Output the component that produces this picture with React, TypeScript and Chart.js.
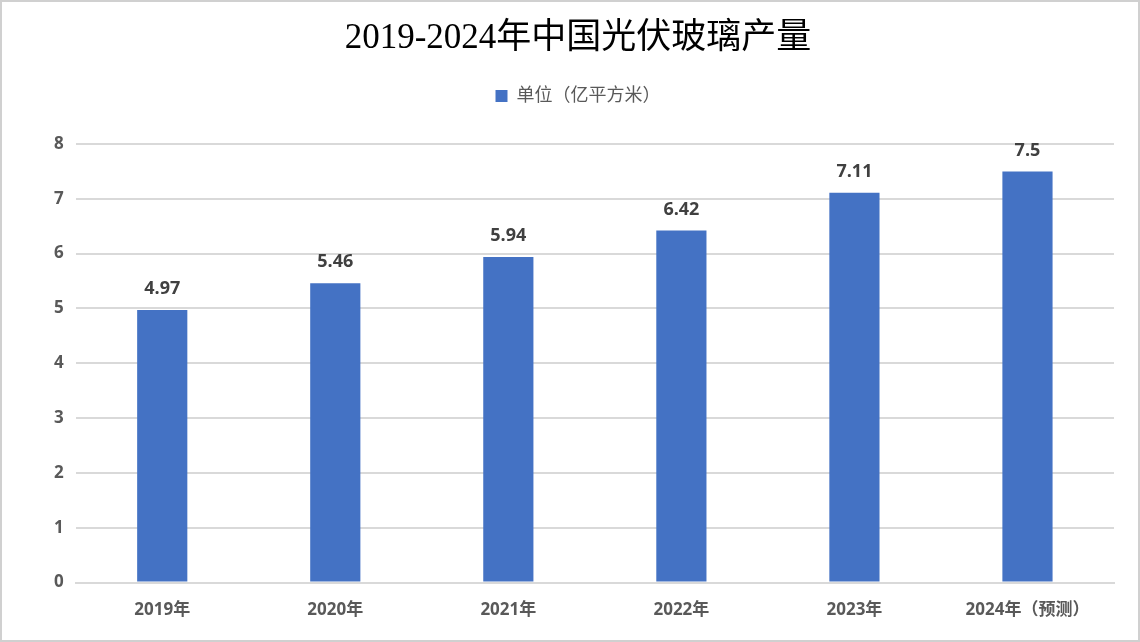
import React, { useEffect, useRef } from "react";
import { Chart, registerables } from "chart.js";

Chart.register(...registerables);

const categories = ["2019年", "2020年", "2021年", "2022年", "2023年", "2024年（预测）"];
const values = [4.97, 5.46, 5.94, 6.42, 7.11, 7.5];
const valueLabels = ["4.97", "5.46", "5.94", "6.42", "7.11", "7.5"];
const seriesName = "单位（亿平方米）";
const titleText = "2019-2024年中国光伏玻璃产量";

const SANS = '"Open Sans", "Noto Sans CJK SC", sans-serif';

const dataLabelPlugin = {
  id: "dataLabels",
  afterDatasetsDraw(chart: any) {
    const ctx = chart.ctx;
    const meta = chart.getDatasetMeta(0);
    ctx.save();
    ctx.font = `bold 18px ${SANS}`;
    ctx.fillStyle = "#404040";
    ctx.textAlign = "center";
    ctx.textBaseline = "bottom";
    meta.data.forEach((bar: any, i: number) => {
      ctx.fillText(valueLabels[i], bar.x, bar.y - 12);
    });
    ctx.restore();
  },
};

const legendMarginPlugin = {
  id: "legendMargin",
  beforeInit(chart: any) {
    const legend = chart.legend;
    if (!legend) return;
    const orig = legend.fit;
    legend.fit = function () {
      orig.call(this);
      this.height += 29;
    };
  },
};

export default function App() {
  const ref = useRef<HTMLCanvasElement | null>(null);
  useEffect(() => {
    document.body.style.margin = "0";
    if (!ref.current) return;
    const chart = new Chart(ref.current, {
      type: "bar",
      data: {
        labels: categories,
        datasets: [
          {
            label: seriesName,
            data: values,
            backgroundColor: "#4472c4",
            categoryPercentage: 1,
            barPercentage: 0.29,
          },
        ],
      },
      options: {
        animation: false,
        responsive: false,
        maintainAspectRatio: false,
        layout: { padding: { left: 40, right: 24, top: 8, bottom: 3 } },
        plugins: {
          title: {
            display: true,
            text: titleText,
            color: "#000000",
            font: { family: '"Liberation Serif", "Noto Sans CJK SC", serif', size: 35, weight: "normal" },
            padding: { top: 8, bottom: 17 },
          },
          legend: {
            display: true,
            position: "top",
            labels: {
              color: "#595959",
              font: { family: SANS, size: 18 },
              boxWidth: 12,
              boxHeight: 12,
              padding: 10,
            },
          },
          tooltip: { enabled: false },
        },
        scales: {
          x: {
            grid: { display: false, drawTicks: false },
            border: { display: true, color: "#d9d9d9", width: 2 },
            ticks: {
              color: "#595959",
              font: { family: SANS, size: 17, weight: "bold" },
              padding: 17,
              maxRotation: 0,
              autoSkip: false,
            },
          },
          y: {
            min: 0,
            max: 8,
            grid: { color: "#d9d9d9", lineWidth: 2, drawTicks: false },
            border: { display: false },
            ticks: {
              stepSize: 1,
              color: "#595959",
              font: { family: SANS, size: 17, weight: "bold" },
              padding: 12,
            },
          },
        },
      },
      plugins: [legendMarginPlugin, dataLabelPlugin],
    });
    return () => chart.destroy();
  }, []);
  return (
    <div
      style={{
        width: 1140,
        height: 642,
        boxSizing: "border-box",
        border: "2px solid #d0d0d0",
        background: "#ffffff",
        position: "relative",
      }}
    >
      <canvas ref={ref} width={1136} height={638} style={{ display: "block" }} />
    </div>
  );
}
